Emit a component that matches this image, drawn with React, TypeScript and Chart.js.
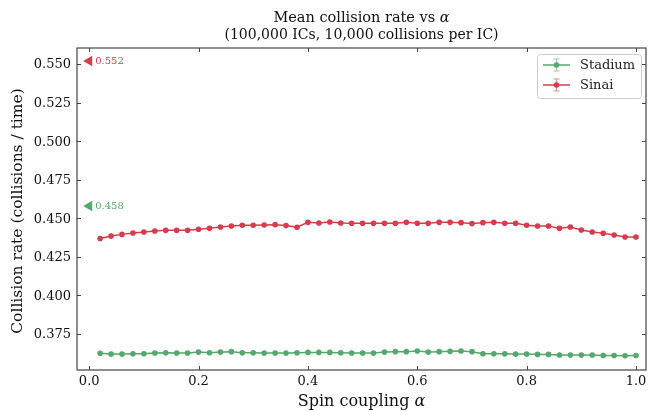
import React, { useEffect, useRef } from "react";
import { Chart, registerables } from "chart.js";

Chart.register(...registerables);

// Spin coupling values (x)
const alphas = [
  0.02, 0.04, 0.06, 0.08, 0.1, 0.12, 0.14, 0.16, 0.18, 0.2,
  0.22, 0.24, 0.26, 0.28, 0.3, 0.32, 0.34, 0.36, 0.38, 0.4,
  0.42, 0.44, 0.46, 0.48, 0.5, 0.52, 0.54, 0.56, 0.58, 0.6,
  0.62, 0.64, 0.66, 0.68, 0.7, 0.72, 0.74, 0.76, 0.78, 0.8,
  0.82, 0.84, 0.86, 0.88, 0.9, 0.92, 0.94, 0.96, 0.98, 1.0,
];

// Mean collision rate, stadium billiard
const stadiumRate = [
  0.3625, 0.362, 0.362, 0.3622, 0.3622, 0.3627, 0.3629, 0.3627, 0.3627, 0.3633,
  0.3629, 0.3633, 0.3636, 0.3629, 0.3629, 0.3627, 0.3627, 0.3627, 0.3629, 0.3631,
  0.3631, 0.3631, 0.3629, 0.3627, 0.3627, 0.3627, 0.3633, 0.3636, 0.3636, 0.364,
  0.3633, 0.3636, 0.3638, 0.364, 0.3636, 0.3622, 0.3622, 0.3622, 0.362, 0.362,
  0.3618, 0.3618, 0.3614, 0.3614, 0.3614, 0.3614, 0.3611, 0.3611, 0.3609, 0.3611,
];

// Mean collision rate, Sinai billiard
const sinaiRate = [
  0.4369, 0.4385, 0.4396, 0.4405, 0.4411, 0.4418, 0.4422, 0.4422, 0.4422, 0.4429,
  0.4435, 0.4444, 0.445, 0.4455, 0.4455, 0.4457, 0.4459, 0.4453, 0.4442, 0.4474,
  0.447, 0.4476, 0.447, 0.4468, 0.4468, 0.4468, 0.4468, 0.4468, 0.4474, 0.4468,
  0.4468, 0.4474, 0.4474, 0.4472, 0.4466, 0.4472, 0.4474, 0.4468, 0.4468, 0.4455,
  0.445, 0.445, 0.4435, 0.4444, 0.4424, 0.4411, 0.4403, 0.4392, 0.4379, 0.4379,
];

// Reference rates marked on the left edge
const refAlpha = 0;
const refStadium = 0.458;
const refSinai = 0.552;

const xTickValues = [0, 0.2, 0.4, 0.6, 0.8, 1.0];
const xTickLabels = ["0.0", "0.2", "0.4", "0.6", "0.8", "1.0"];
const yTickValues = [0.375, 0.4, 0.425, 0.45, 0.475, 0.5, 0.525, 0.55];
const yTickLabels = ["0.375", "0.400", "0.425", "0.450", "0.475", "0.500", "0.525", "0.550"];

const seriesNames = ["Stadium", "Sinai"];
const titleLine1 = "Mean collision rate vs ";
const titleLine2 = "(100,000 ICs, 10,000 collisions per IC)";
const xLabel = "Spin coupling ";
const yLabel = "Collision rate (collisions / time)";
const greekAlpha = "\u03b1";

const GREEN = "#55a86c";
const RED = "#d63c4c";
const FRAME = "#444444";
const INK = "#111111";
const SERIF = "'DejaVu Serif', serif";

const decorPlugin = {
  id: "decor",
  afterDraw(chart: any) {
    const { ctx, chartArea } = chart;
    const xs = chart.scales.x;
    const ys = chart.scales.y;
    const { left, right, top, bottom } = chartArea;
    ctx.save();

    // frame
    ctx.strokeStyle = FRAME;
    ctx.lineWidth = 1.2;
    ctx.strokeRect(left, top, right - left, bottom - top);

    // inward ticks on all sides
    ctx.lineWidth = 1;
    const tl = 4;
    ctx.beginPath();
    for (const v of xTickValues) {
      const px = Math.round(xs.getPixelForValue(v)) + 0.5;
      ctx.moveTo(px, bottom);
      ctx.lineTo(px, bottom - tl);
      ctx.moveTo(px, top);
      ctx.lineTo(px, top + tl);
    }
    for (const v of yTickValues) {
      const py = Math.round(ys.getPixelForValue(v)) + 0.5;
      ctx.moveTo(left, py);
      ctx.lineTo(left + tl, py);
      ctx.moveTo(right, py);
      ctx.lineTo(right - tl, py);
    }
    ctx.stroke();

    // tick labels
    ctx.fillStyle = INK;
    ctx.font = `13px ${SERIF}`;
    ctx.textAlign = "center";
    ctx.textBaseline = "middle";
    xTickValues.forEach((v, i) => {
      ctx.fillText(xTickLabels[i], xs.getPixelForValue(v), bottom + 11.5);
    });
    ctx.textAlign = "right";
    yTickValues.forEach((v, i) => {
      ctx.fillText(yTickLabels[i], left - 6, ys.getPixelForValue(v) + 1);
    });

    // reference value labels
    ctx.font = `10px ${SERIF}`;
    ctx.textAlign = "left";
    ctx.textBaseline = "middle";
    const rx = xs.getPixelForValue(refAlpha) + 6;
    ctx.fillStyle = RED;
    ctx.fillText(refSinai.toFixed(3), rx, ys.getPixelForValue(refSinai));
    ctx.fillStyle = GREEN;
    ctx.fillText(refStadium.toFixed(3), rx, ys.getPixelForValue(refStadium));

    // legend
    const lx = 537, ly = 54, lw = 104, lh = 44;
    ctx.beginPath();
    ctx.roundRect(lx + 0.5, ly + 0.5, lw, lh, 3);
    ctx.fillStyle = "rgba(255,255,255,0.8)";
    ctx.fill();
    ctx.strokeStyle = "#cccccc";
    ctx.lineWidth = 1;
    ctx.stroke();
    const colors = [GREEN, RED];
    seriesNames.forEach((name, i) => {
      const cy = 65 + i * 20;
      const c = colors[i];
      ctx.strokeStyle = c;
      ctx.lineWidth = 1.5;
      ctx.beginPath();
      ctx.moveTo(543, cy);
      ctx.lineTo(570, cy);
      ctx.stroke();
      ctx.globalAlpha = 0.6;
      ctx.lineWidth = 1.2;
      ctx.beginPath();
      ctx.moveTo(556.5, cy - 6);
      ctx.lineTo(556.5, cy + 6);
      ctx.moveTo(553.5, cy - 6);
      ctx.lineTo(559.5, cy - 6);
      ctx.moveTo(553.5, cy + 6);
      ctx.lineTo(559.5, cy + 6);
      ctx.stroke();
      ctx.globalAlpha = 1;
      ctx.fillStyle = c;
      ctx.beginPath();
      ctx.arc(556.5, cy, 2.8, 0, Math.PI * 2);
      ctx.fill();
      ctx.fillStyle = "#222222";
      ctx.font = `13px ${SERIF}`;
      ctx.textAlign = "left";
      ctx.textBaseline = "middle";
      ctx.fillText(name, 580, cy + 0.5);
    });

    // text with an italic alpha at the end, centred on cx
    const mixed = (text: string, size: number, cx: number, cy: number) => {
      ctx.font = `${size}px ${SERIF}`;
      const w1 = ctx.measureText(text).width;
      ctx.font = `italic ${size}px ${SERIF}`;
      const w2 = ctx.measureText(greekAlpha).width;
      const x0 = cx - (w1 + w2) / 2;
      ctx.textAlign = "left";
      ctx.textBaseline = "middle";
      ctx.fillStyle = INK;
      ctx.font = `${size}px ${SERIF}`;
      ctx.fillText(text, x0, cy);
      ctx.font = `italic ${size}px ${SERIF}`;
      ctx.fillText(greekAlpha, x0 + w1, cy);
    };

    const midX = (left + right) / 2;
    mixed(titleLine1, 14.5, midX, 18.5);
    ctx.font = `14px ${SERIF}`;
    ctx.textAlign = "center";
    ctx.fillText(titleLine2, midX, 35.5);

    mixed(xLabel, 16, midX, 402);

    ctx.save();
    ctx.translate(18, (top + bottom) / 2 + 2);
    ctx.rotate(-Math.PI / 2);
    ctx.font = `15.5px ${SERIF}`;
    ctx.textAlign = "center";
    ctx.textBaseline = "middle";
    ctx.fillStyle = INK;
    ctx.fillText(yLabel, 0, 0);
    ctx.restore();

    ctx.restore();
  },
};

export default function App() {
  const canvasRef = useRef<HTMLCanvasElement | null>(null);

  useEffect(() => {
    if (!canvasRef.current) return;
    const chart = new Chart(canvasRef.current, {
      type: "line",
      data: {
        datasets: [
          {
            label: seriesNames[0],
            data: alphas.map((a, i) => ({ x: a, y: stadiumRate[i] })),
            borderColor: GREEN,
            backgroundColor: GREEN,
            borderWidth: 1.5,
            pointRadius: 2.8,
            pointBorderWidth: 0,
            pointBackgroundColor: GREEN,
          },
          {
            label: seriesNames[1],
            data: alphas.map((a, i) => ({ x: a, y: sinaiRate[i] })),
            borderColor: RED,
            backgroundColor: RED,
            borderWidth: 1.5,
            pointRadius: 2.8,
            pointBorderWidth: 0,
            pointBackgroundColor: RED,
          },
          {
            label: "refs",
            data: [
              { x: refAlpha, y: refSinai },
              { x: refAlpha, y: refStadium },
            ],
            showLine: false,
            pointStyle: "triangle",
            rotation: -90,
            pointRadius: 6,
            pointBorderWidth: 0,
            pointBackgroundColor: [RED, GREEN],
            borderColor: [RED, GREEN],
          },
        ],
      },
      options: {
        responsive: false,
        animation: false,
        layout: { autoPadding: false, padding: { top: 48, right: 3, left: 0, bottom: 0 } },
        plugins: {
          legend: { display: false },
          title: { display: false },
          tooltip: { enabled: false },
        },
        scales: {
          x: {
            type: "linear",
            min: -0.0223,
            max: 1.0183,
            grid: { display: false, drawTicks: false },
            border: { display: false },
            ticks: { display: false },
            afterFit: (s: any) => {
              s.height = 41;
            },
          },
          y: {
            type: "linear",
            min: 0.3517,
            max: 0.5604,
            grid: { display: false, drawTicks: false },
            border: { display: false },
            ticks: { display: false },
            afterFit: (s: any) => {
              s.width = 77;
            },
          },
        },
      },
      plugins: [decorPlugin],
    } as any);
    return () => chart.destroy();
  }, []);

  return (
    <div style={{ position: "fixed", left: 0, top: 0, width: 649, height: 411, background: "#ffffff" }}>
      <canvas ref={canvasRef} width={649} height={411} />
    </div>
  );
}
